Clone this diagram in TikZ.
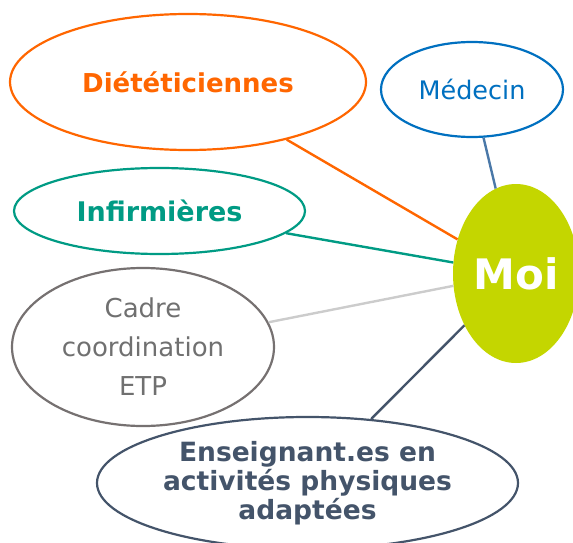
\documentclass[tikz,border=0pt]{standalone}
\usepackage{fontspec}
\setmainfont{DejaVu Sans}
\usetikzlibrary{shapes.geometric}
\definecolor{corange}{HTML}{FF6600}
\definecolor{cblue}{HTML}{0070C0}
\definecolor{cteal}{HTML}{009B84}
\definecolor{cgray}{HTML}{767171}
\definecolor{cgraytext}{HTML}{707070}
\definecolor{clight}{HTML}{CCCCCC}
\definecolor{cmoi}{HTML}{C4D600}
\definecolor{cnavy}{HTML}{44546A}
\definecolor{csteel}{HTML}{4A78A8}
\begin{document}
\begin{tikzpicture}[x=1pt,y=-1pt,
  bubble/.style={ellipse, draw, line width=2.2pt, fill=white, inner sep=0pt, align=center},
  link/.style={line width=2.4pt}]
\useasboundingbox (0,0) rectangle (573,543);
\clip (0,0) rectangle (573,543);
% nodes
\node[bubble, draw=corange, text=corange, minimum width=356pt, minimum height=136pt,
  font=\fontsize{26}{30}\selectfont\bfseries] (diet) at (188,82) {Diététiciennes};
\node[bubble, draw=cblue, text=cblue, minimum width=182pt, minimum height=95pt,
  font=\fontsize{25.5}{30}\selectfont] (med) at (472,89.5) {Médecin};
\node[bubble, draw=cteal, text=cteal, minimum width=291pt, minimum height=86pt,
  font=\fontsize{27}{30}\selectfont\bfseries] (inf) at (159.5,211) {Infirmières};
\node[bubble, draw=cgray, text=cgraytext, minimum width=262pt, minimum height=158pt,
  font=\fontsize{26}{39}\selectfont] (cadre) at (143,347) {Cadre\\coordination\\ETP};
\node[bubble, draw=cnavy, text=cnavy, minimum width=421pt, minimum height=132pt,
  font=\fontsize{26.5}{29}\selectfont\bfseries] (ens) at (307.5,483) {Enseignant.es en\\activités physiques\\adaptées};
\node[ellipse, fill=cmoi, draw=none, text=white, inner sep=0pt, minimum width=126pt, minimum height=179pt,
  font=\fontsize{42}{46}\selectfont\bfseries] (moi) at (516,273.5) {Moi};
% links
\draw[link, draw=corange] (diet) -- (moi);
\draw[link, draw=cteal] (inf) -- (moi);
\draw[link, draw=clight] (cadre) -- (moi);
\draw[link, draw=csteel] (med) -- (moi);
\draw[link, draw=cnavy] (ens) -- (moi);
\end{tikzpicture}
\end{document}
